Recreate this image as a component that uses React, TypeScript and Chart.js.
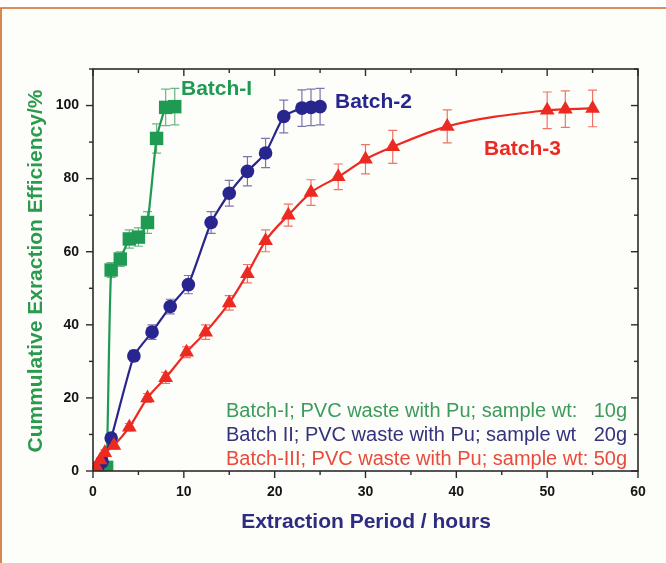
import React, { useEffect, useRef } from "react";
import { Chart, registerables } from "chart.js";

Chart.register(...registerables);

// Batch-I: 10 g PVC waste with Pu
const batch1Hours = [1, 1.5, 2, 3, 4, 5, 6, 7, 8, 9];
const batch1Efficiency = [0, 1, 55, 58, 63.5, 64, 68, 91, 99.5, 99.7];
const batch1Error = [0.5, 0.8, 2, 2, 2.5, 2.5, 3, 4, 5, 5];

// Batch II: 20 g PVC waste with Pu
const batch2Hours = [0.5, 1, 2, 4.5, 6.5, 8.5, 10.5, 13, 15, 17, 19, 21, 23, 24, 25];
const batch2Efficiency = [1, 2.5, 9, 31.5, 38, 45, 51, 68, 76, 82, 87, 97, 99.3, 99.5, 99.7];
const batch2Error = [0.5, 0.8, 1, 1.5, 2, 2, 2.5, 3, 3.5, 4, 4, 4.5, 5, 5, 5];

// Batch-III: 50 g PVC waste with Pu
const batch3Hours = [0.4, 0.8, 1.3, 2.3, 4, 6, 8, 10.3, 12.4, 15, 17, 19, 21.5, 24, 27, 30, 33, 39, 50, 52, 55];
const batch3Efficiency = [1, 3, 5, 7, 12, 20, 25.5, 32.5, 38, 46, 54, 63, 70, 76.2, 80.5, 85.3, 88.7, 94.3, 98.7, 99, 99.2];
const batch3Error = [0.3, 0.5, 0.8, 1, 1, 1.2, 1.5, 1.5, 2, 2, 2.5, 3, 3, 3.5, 3.5, 4, 4.5, 4.5, 5, 5, 5];

// Axis ticks
const xTickLabels = [0, 10, 20, 30, 40, 50, 60];
const xMinorTicks = [5, 15, 25, 35, 45, 55];
const yTickLabels = [0, 20, 40, 60, 80, 100];
const yMinorTicks = [10, 30, 50, 70, 90, 110];

const FONT = "'Liberation Sans', Arial, sans-serif";

const GREEN = "#1f9a52";
const BLUE = "#28268e";
const RED = "#ec2a22";

const toPoints = (xs: number[], ys: number[]) => xs.map((x, i) => ({ x, y: ys[i] }));

const errorBarsPlugin = {
  id: "errorBars",
  beforeDatasetsDraw(chart: any) {
    const { ctx, scales } = chart;
    const xs = scales.x;
    const ys = scales.y;
    chart.data.datasets.forEach((ds: any) => {
      ctx.save();
      ctx.strokeStyle = ds.errorColor;
      ctx.lineWidth = 1.2;
      ds.data.forEach((p: any, i: number) => {
        const e = ds.errors[i];
        const px = xs.getPixelForValue(p.x);
        const top = ys.getPixelForValue(p.y + e);
        const bot = ys.getPixelForValue(Math.max(p.y - e, 0));
        ctx.beginPath();
        ctx.moveTo(px, top);
        ctx.lineTo(px, bot);
        ctx.moveTo(px - 4.5, top);
        ctx.lineTo(px + 4.5, top);
        ctx.moveTo(px - 4.5, bot);
        ctx.lineTo(px + 4.5, bot);
        ctx.stroke();
      });
      ctx.restore();
    });
  },
};

const decorPlugin = {
  id: "decor",
  beforeDraw(chart: any) {
    const { ctx, width, height } = chart;
    ctx.save();
    ctx.fillStyle = "#ffffff";
    ctx.fillRect(0, 0, width, height);
    ctx.fillStyle = "#fdfdf9";
    ctx.fillRect(2, 9, width - 2, height - 9);
    ctx.strokeStyle = "#cf6a26";
    ctx.lineWidth = 1.6;
    ctx.beginPath();
    ctx.moveTo(1, height);
    ctx.lineTo(1, 8);
    ctx.lineTo(width, 8);
    ctx.stroke();
    ctx.restore();
  },
  afterDraw(chart: any) {
    const { ctx, chartArea: a, scales } = chart;
    const xs = scales.x;
    const ys = scales.y;
    ctx.save();

    // frame
    ctx.strokeStyle = "#2b2b2b";
    ctx.lineWidth = 1.6;
    ctx.strokeRect(a.left, a.top, a.right - a.left, a.bottom - a.top);

    const seg = (x1: number, y1: number, x2: number, y2: number) => {
      ctx.beginPath();
      ctx.moveTo(x1, y1);
      ctx.lineTo(x2, y2);
      ctx.stroke();
    };
    ctx.lineWidth = 1.4;
    const xTick = (v: number, len: number) => {
      const px = xs.getPixelForValue(v);
      seg(px, a.bottom, px, a.bottom + len);
      seg(px, a.top, px, a.top + len);
    };
    const yTick = (v: number, len: number) => {
      const py = ys.getPixelForValue(v);
      seg(a.left - len, py, a.left, py);
      seg(a.right - len, py, a.right, py);
    };
    xTickLabels.forEach((v) => xTick(v, 7));
    xMinorTicks.forEach((v) => xTick(v, 4));
    yTickLabels.forEach((v) => yTick(v, 7));
    yMinorTicks.forEach((v) => yTick(v, 4));

    // axis titles
    ctx.textBaseline = "middle";
    ctx.textAlign = "center";
    ctx.fillStyle = "#2d2c80";
    ctx.font = `bold 21px ${FONT}`;
    ctx.fillText("Extraction Period / hours", 366, 522);

    ctx.save();
    ctx.translate(36, 271);
    ctx.rotate(-Math.PI / 2);
    ctx.fillStyle = "#2a9a4e";
    ctx.font = `bold 21px ${FONT}`;
    ctx.fillText("Cummulative Exraction Efficiency/%", 0, 0);
    ctx.restore();

    // series labels
    ctx.textAlign = "left";
    ctx.font = `bold 21px ${FONT}`;
    ctx.fillStyle = GREEN;
    ctx.fillText("Batch-I", 181, 89);
    ctx.fillStyle = BLUE;
    ctx.fillText("Batch-2", 335, 102);
    ctx.fillStyle = RED;
    ctx.fillText("Batch-3", 484, 149);

    // sample notes
    ctx.font = `20px ${FONT}`;
    const notes = [
      { text: "Batch-I; PVC waste with Pu; sample wt:", wt: "10g", color: "#3c9b5c", y: 411 },
      { text: "Batch II; PVC waste with Pu; sample wt", wt: "20g", color: "#34327f", y: 435 },
      { text: "Batch-III; PVC waste with Pu; sample wt:", wt: "50g", color: "#e84a3c", y: 459 },
    ];
    notes.forEach((n) => {
      ctx.fillStyle = n.color;
      ctx.textAlign = "left";
      ctx.fillText(n.text, 226, n.y);
      ctx.textAlign = "right";
      ctx.fillText(n.wt, 627, n.y);
    });

    ctx.restore();
  },
};

export default function App() {
  const canvasRef = useRef<HTMLCanvasElement | null>(null);

  useEffect(() => {
    document.body.style.margin = "0";
    const canvas = canvasRef.current;
    if (!canvas) return;

    const chart = new Chart(canvas, {
      type: "scatter",
      data: {
        datasets: [
          {
            label: "Batch-III",
            data: toPoints(batch3Hours, batch3Efficiency),
            errors: batch3Error,
            errorColor: "rgba(232,70,55,0.75)",
            showLine: true,
            borderColor: RED,
            backgroundColor: RED,
            borderWidth: 2.2,
            cubicInterpolationMode: "monotone",
            pointStyle: "triangle",
            pointRadius: 8.5,
            pointBorderWidth: 0,
          } as any,
          {
            label: "Batch II",
            data: toPoints(batch2Hours, batch2Efficiency),
            errors: batch2Error,
            errorColor: "rgba(80,70,150,0.75)",
            showLine: true,
            borderColor: BLUE,
            backgroundColor: BLUE,
            borderWidth: 2.2,
            tension: 0.15,
            pointStyle: "circle",
            pointRadius: 6.8,
            pointBorderWidth: 0,
          } as any,
          {
            label: "Batch-I",
            data: toPoints(batch1Hours, batch1Efficiency),
            errors: batch1Error,
            errorColor: "rgba(60,155,95,0.75)",
            showLine: true,
            borderColor: GREEN,
            backgroundColor: GREEN,
            borderWidth: 2.2,
            tension: 0.15,
            pointStyle: "rect",
            pointRadius: 9.5,
            pointBorderWidth: 0,
          } as any,
        ],
      },
      options: {
        animation: false,
        responsive: false,
        maintainAspectRatio: false,
        layout: { padding: { left: 0, top: 69, right: 28, bottom: 0 } },
        plugins: {
          legend: { display: false },
          tooltip: { enabled: false },
        },
        scales: {
          x: {
            type: "linear",
            min: 0,
            max: 60,
            grid: { display: false, drawTicks: false },
            border: { display: false },
            afterBuildTicks: (s: any) => {
              s.ticks = xTickLabels.map((v) => ({ value: v }));
            },
            afterFit: (s: any) => {
              s.height = 92;
            },
            ticks: {
              padding: 13,
              color: "#151515",
              font: { family: FONT, size: 14, weight: "bold" },
              maxRotation: 0,
            },
          },
          y: {
            type: "linear",
            min: 0,
            max: 110,
            grid: { display: false, drawTicks: false },
            border: { display: false },
            afterBuildTicks: (s: any) => {
              s.ticks = yTickLabels.map((v) => ({ value: v }));
            },
            afterFit: (s: any) => {
              s.width = 93;
            },
            ticks: {
              padding: 14,
              color: "#151515",
              font: { family: FONT, size: 14, weight: "bold" },
            },
          },
        },
      } as any,
      plugins: [decorPlugin, errorBarsPlugin],
    });

    return () => chart.destroy();
  }, []);

  return <canvas ref={canvasRef} width={666} height={563} style={{ display: "block" }} />;
}
